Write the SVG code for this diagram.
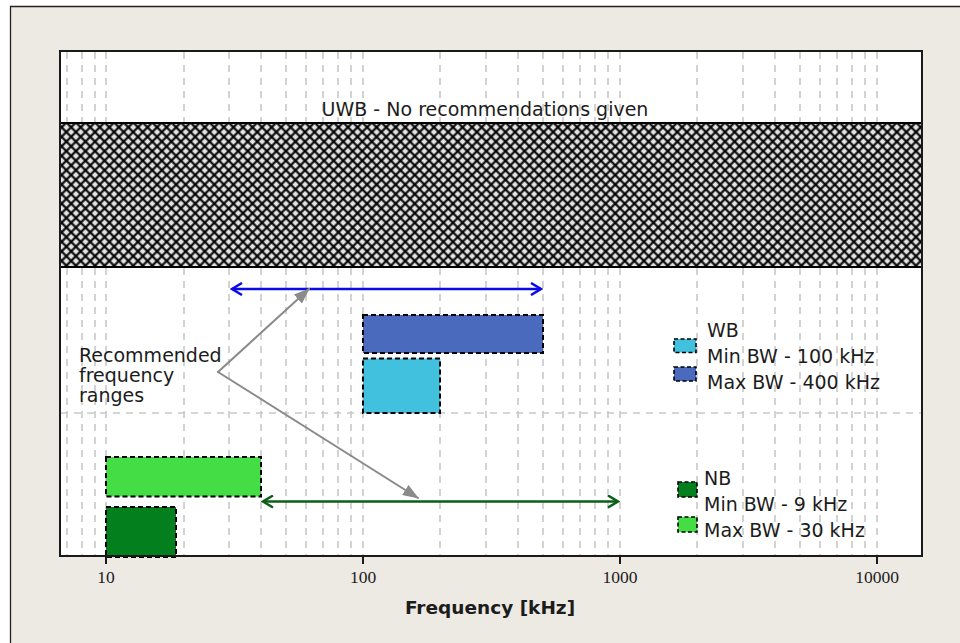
<svg xmlns="http://www.w3.org/2000/svg" width="960" height="643" viewBox="0 0 960 643">
<defs>
<pattern id="hatch" patternUnits="userSpaceOnUse" width="6.75" height="6.75" patternTransform="rotate(45 60 123)">
<rect width="6.75" height="6.75" fill="#e2e2e2"/>
<line x1="0" y1="3.375" x2="6.75" y2="3.375" stroke="#000" stroke-width="2.1"/>
<line x1="3.375" y1="0" x2="3.375" y2="6.75" stroke="#000" stroke-width="2.1"/>
</pattern>
<marker id="blueHead" viewBox="0 0 14 14" refX="12" refY="7" markerWidth="14" markerHeight="14" markerUnits="userSpaceOnUse" orient="auto-start-reverse">
<path d="M2,1 L12,7 L2,13" fill="none" stroke="#0b0be6" stroke-width="2.5"/>
</marker>
<marker id="greenHead" viewBox="0 0 14 14" refX="12" refY="7" markerWidth="14" markerHeight="14" markerUnits="userSpaceOnUse" orient="auto-start-reverse">
<path d="M2,1 L12,7 L2,13" fill="none" stroke="#0b5e18" stroke-width="2.5"/>
</marker>
<marker id="grayHead" viewBox="0 0 16 12" refX="15" refY="6" markerWidth="16" markerHeight="12" markerUnits="userSpaceOnUse" orient="auto">
<path d="M0,0 L16,6 L0,12 Z" fill="#8a8a8a"/>
</marker>
</defs>
<style>
.grid{stroke:#c9c9c9;stroke-width:1.6;stroke-dasharray:7 6;fill:none}
.box{stroke:#000;stroke-width:2;stroke-dasharray:5 3}
.sw{stroke:#000;stroke-width:1.6;stroke-dasharray:4 2.5}
.lbl{font-family:"DejaVu Sans",Verdana,sans-serif;font-size:19px;fill:#1c1c1c}
.tick{font-family:"Liberation Serif","Times New Roman",serif;font-size:17.5px;fill:#1c1c1c;text-anchor:middle}
</style>
<rect x="0" y="0" width="960" height="643" fill="#ffffff"/>
<rect x="10" y="6" width="960" height="660" fill="#ede9e3"/>
<path d="M10.5,643 L10.5,6.5 L960,6.5" fill="none" stroke="#222" stroke-width="1.3"/>
<rect x="60" y="51" width="862" height="505" fill="#ffffff"/>
<g id="gridlines">
<path class="grid" d="M67,52V123M82,52V123M95,52V123M106,52V123M184,52V123M229,52V123M261,52V123M286,52V123M306,52V123M323,52V123M338,52V123M351,52V123M363,52V123M440,52V123M486,52V123M518,52V123M543,52V123M563,52V123M580,52V123M595,52V123M608,52V123M620,52V123M697,52V123M743,52V123M775,52V123M800,52V123M820,52V123M837,52V123M852,52V123M865,52V123M877,52V123"/>
<path class="grid" d="M67,268V556M82,268V556M95,268V556M106,268V556M184,268V556M229,268V556M261,268V556M286,268V556M306,268V556M323,268V556M338,268V556M351,268V556M363,268V556M440,268V556M486,268V556M518,268V556M543,268V556M563,268V556M580,268V556M595,268V556M608,268V556M620,268V556M697,268V556M743,268V556M775,268V556M800,268V556M820,268V556M837,268V556M852,268V556M865,268V556M877,268V556"/>
<path class="grid" d="M61,413H921"/>
</g>
<g id="uwb">
<rect x="60" y="123" width="862" height="144" fill="url(#hatch)" stroke="#000" stroke-width="2"/>
<text class="lbl" x="485" y="116" text-anchor="middle">UWB - No recommendations given</text>
</g>
<g id="wb-max"><rect class="box" x="363" y="315" width="180" height="38" fill="#4a6abe"/></g>
<g id="wb-min"><rect class="box" x="363" y="358.5" width="77" height="54.5" fill="#42c1df"/></g>
<g id="nb-max"><rect class="box" x="106" y="457" width="155" height="39.5" fill="#45dd45"/></g>
<g id="nb-min"><rect class="box" x="106" y="507" width="70" height="50" fill="#037f1d"/></g>
<g id="connectors">
<line x1="232" y1="289" x2="541" y2="289" stroke="#0b0be6" stroke-width="2.5" marker-start="url(#blueHead)" marker-end="url(#blueHead)"/>
<line x1="263" y1="501.5" x2="618" y2="501.5" stroke="#0b5e18" stroke-width="2.5" marker-start="url(#greenHead)" marker-end="url(#greenHead)"/>
<line x1="218" y1="372" x2="309" y2="289" stroke="#8a8a8a" stroke-width="2" stroke-linecap="round" marker-end="url(#grayHead)"/>
<line x1="218" y1="372" x2="418" y2="498" stroke="#8a8a8a" stroke-width="2" stroke-linecap="round" marker-end="url(#grayHead)"/>
</g>
<g id="annotation">
<text class="lbl" x="79" y="362">Recommended</text>
<text class="lbl" x="79" y="382">frequency</text>
<text class="lbl" x="79" y="402">ranges</text>
</g>
<g id="legend-wb">
<text class="lbl" x="707" y="337">WB</text>
<rect class="sw" x="674" y="339" width="22" height="13.5" fill="#42c1df"/>
<text class="lbl" x="707" y="363">Min BW - 100 kHz</text>
<rect class="sw" x="674" y="367" width="22" height="14" fill="#4a6abe"/>
<text class="lbl" x="707" y="389">Max BW - 400 kHz</text>
</g>
<g id="legend-nb">
<text class="lbl" x="704" y="485">NB</text>
<rect class="sw" x="678" y="482" width="19" height="15" fill="#037f1d"/>
<text class="lbl" x="704" y="511">Min BW - 9 kHz</text>
<rect class="sw" x="678" y="517" width="19" height="15" fill="#45dd45"/>
<text class="lbl" x="704" y="537">Max BW - 30 kHz</text>
</g>
<g id="axes">
<rect x="60" y="51" width="862" height="505" fill="none" stroke="#1a1a1a" stroke-width="2"/>
<path d="M106,556V564M363,556V564M620,556V564M877,556V564" stroke="#1a1a1a" stroke-width="2"/>
<text class="tick" x="106" y="583">10</text>
<text class="tick" x="363" y="583">100</text>
<text class="tick" x="620" y="583">1000</text>
<text class="tick" x="877" y="583">10000</text>
<text x="490" y="614" text-anchor="middle" font-family="'DejaVu Sans',Verdana,sans-serif" font-weight="bold" font-size="18.5" fill="#1c1c1c">Frequency [kHz]</text>
</g>
</svg>
